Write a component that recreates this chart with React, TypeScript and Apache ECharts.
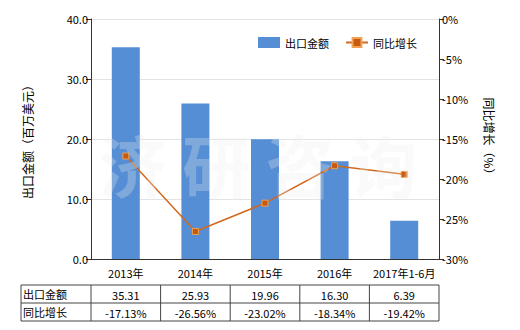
import React, { useEffect, useRef } from "react";
import * as echarts from "echarts";

const categories = ["2013年", "2014年", "2015年", "2016年", "2017年1-6月"];
const exportValues = [35.31, 25.93, 19.96, 16.3, 6.39];
const growthValues = [-17.13, -26.56, -23.02, -18.34, -19.42];
const exportLabels = ["35.31", "25.93", "19.96", "16.30", "6.39"];
const growthLabels = ["-17.13%", "-26.56%", "-23.02%", "-18.34%", "-19.42%"];
const rowNames = ["出口金额", "同比增长"];

const GRID_LEFT = 91;
const GRID_RIGHT_X = 439;
const GRID_TOP = 19;
const GRID_BOTTOM_Y = 259;
const TABLE_LEFT = 21;
const TABLE_TOP = 285;
const ROW_H = 18;
const FONT = "'Noto Sans CJK SC', 'Microsoft YaHei', sans-serif";

export default function App() {
  const ref = useRef<HTMLDivElement>(null);
  useEffect(() => {
    if (!ref.current) return;
    const chart = echarts.init(ref.current, null, { renderer: "svg" });
    const colW = (GRID_RIGHT_X - GRID_LEFT) / categories.length;
    const lineColor = "#333";
    const graphics: any[] = [];
    const tableBottom = TABLE_TOP + ROW_H * 2;
    for (let r = 0; r <= 2; r++) {
      graphics.push({
        type: "line",
        shape: { x1: TABLE_LEFT, y1: TABLE_TOP + r * ROW_H, x2: GRID_RIGHT_X, y2: TABLE_TOP + r * ROW_H },
        style: { stroke: "#444", lineWidth: 1 },
      });
    }
    const xs = [TABLE_LEFT, GRID_LEFT];
    for (let i = 1; i <= categories.length; i++) xs.push(GRID_LEFT + colW * i);
    xs.forEach((x) => {
      graphics.push({
        type: "line",
        shape: { x1: x, y1: TABLE_TOP, x2: x, y2: tableBottom },
        style: { stroke: "#444", lineWidth: 1 },
      });
    });
    rowNames.forEach((n, r) => {
      graphics.push({
        type: "text",
        x: TABLE_LEFT + 2,
        y: TABLE_TOP + r * ROW_H + ROW_H / 2,
        style: { text: n, font: `11px ${FONT}`, fill: "#000", verticalAlign: "middle", align: "left" },
      });
    });
    [exportLabels, growthLabels].forEach((row, r) => {
      row.forEach((t, i) => {
        graphics.push({
          type: "text",
          x: GRID_LEFT + colW * (i + 0.5),
          y: TABLE_TOP + r * ROW_H + ROW_H / 2 + 1,
          style: { text: t, font: `11px ${FONT}`, fill: "#000", verticalAlign: "middle", align: "center" },
        });
      });
    });
    graphics.push({
      type: "text",
      x: 258,
      y: 163,
      z: 100,
      style: {
        text: "济 研 咨 询",
        font: `bold 68px ${FONT}`,
        fill: "rgba(238,238,238,0.28)",
        align: "center",
        verticalAlign: "middle",
      },
    });

    chart.setOption({
      animation: false,
      textStyle: { fontFamily: FONT },
      grid: {
        left: GRID_LEFT,
        right: 520 - GRID_RIGHT_X,
        top: GRID_TOP,
        bottom: 330 - GRID_BOTTOM_Y,
        containLabel: false,
      },
      legend: {
        left: 253,
        top: 32,
        itemWidth: 22,
        itemHeight: 11,
        itemGap: 16,
        textStyle: { fontSize: 11, color: "#000", fontFamily: FONT },
        data: [
          { name: "出口金额", icon: "rect" },
          { name: "同比增长" },
        ],
      },
      xAxis: {
        type: "category",
        data: categories,
        axisLine: { lineStyle: { color: lineColor, width: 1 } },
        axisTick: { alignWithLabel: true, length: 4, lineStyle: { color: lineColor } },
        axisLabel: { fontSize: 11, color: "#000", margin: 8, interval: 0 },
      },
      yAxis: [
        {
          type: "value",
          min: 0,
          max: 40,
          interval: 10,
          name: "出口金额（百万美元）",
          nameLocation: "middle",
          nameGap: 58,
          nameTextStyle: { fontSize: 12, color: "#000" },
          axisLine: { show: true, lineStyle: { color: lineColor } },
          axisTick: { show: true, length: 5, lineStyle: { color: lineColor } },
          axisLabel: { fontSize: 11, color: "#000", formatter: (v: number) => v.toFixed(1), margin: 3 },
          splitLine: { lineStyle: { color: "#e3e3e3" } },
        },
        {
          type: "value",
          min: -30,
          max: 0,
          interval: 5,
          name: "同比增长（%）",
          nameLocation: "middle",
          nameGap: 44,
          nameRotate: -90,
          nameTextStyle: { fontSize: 12, color: "#000" },
          axisLine: { show: true, lineStyle: { color: lineColor } },
          axisTick: { show: true, length: 5, lineStyle: { color: lineColor } },
          axisLabel: { fontSize: 11, color: "#000", formatter: (v: number) => `${v}%`, margin: 3 },
          splitLine: { show: false },
        },
      ],
      series: [
        {
          name: "出口金额",
          type: "bar",
          data: exportValues,
          barWidth: 28,
          itemStyle: { color: "#558ED5" },
        },
        {
          name: "同比增长",
          type: "line",
          yAxisIndex: 1,
          data: growthValues,
          symbol: "rect",
          symbolSize: 6,
          itemStyle: { color: "#C4590F", borderColor: "#F0A050", borderWidth: 1 },
          lineStyle: { color: "#D2691E", width: 1.5 },
        },
      ],
      graphic: graphics,
    });
    return () => chart.dispose();
  }, []);
  return <div ref={ref} style={{ width: 520, height: 330, position: "absolute", left: 0, top: 0 }} />;
}
